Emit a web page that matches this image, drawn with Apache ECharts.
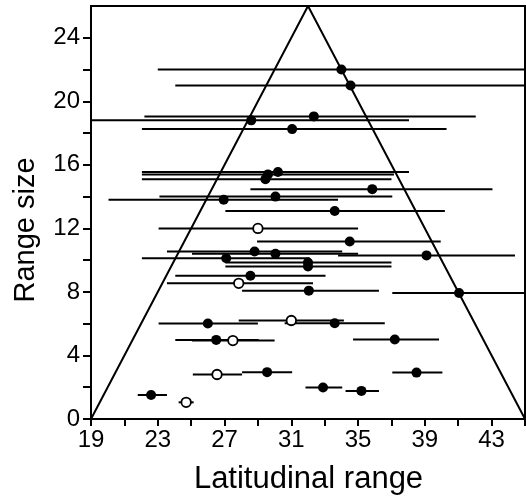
<!DOCTYPE html>
<html><head><meta charset="utf-8">
<script src="https://cdn.jsdelivr.net/npm/echarts@6/dist/echarts.min.js"></script>
<style>html,body{margin:0;padding:0;background:#fff}#c{width:526px;height:498px}</style>
</head><body><div id="c"></div>
<script>
// Range size (y) of each taxon
const rangeY  = [22.0, 21.0, 19.05, 18.8, 18.25, 15.55, 15.4, 15.1, 14.47, 14.0, 13.8, 13.1, 12.0, 11.17, 10.55, 10.4, 10.3, 10.12, 9.85, 9.6, 9.02, 8.54, 8.08, 7.93, 6.2, 6.01, 6.03, 4.98, 4.94, 5.0, 2.8, 2.95, 2.92, 1.98, 1.77, 1.51, 1.05];
// Latitudinal extent: lower and upper limits
const rangeLo = [23.0, 24.05, 22.2, 19.0, 22.05, 22.05, 22.05, 22.05, 28.55, 23.1, 20.05, 27.05, 23.05, 28.95, 23.55, 25.05, 33.8, 22.05, 27.05, 27.05, 24.05, 23.55, 28.05, 37.05, 27.85, 23.05, 30.6, 24.05, 25.05, 34.7, 25.1, 28.05, 37.05, 31.85, 34.25, 21.8, 24.25];
const rangeHi = [45.5, 45.5, 42.05, 38.05, 40.3, 38.05, 37.15, 37.0, 43.05, 37.05, 33.8, 40.2, 35.0, 39.95, 34.05, 35.0, 44.4, 32.1, 37.0, 37.0, 33.05, 32.3, 36.25, 45.5, 34.15, 29.0, 36.6, 29.05, 30.0, 39.85, 28.05, 31.05, 40.05, 34.05, 36.25, 23.55, 25.15];
// Midpoint of each range
const midX    = [34.0, 34.55, 32.35, 28.6, 31.05, 30.2, 29.6, 29.45, 35.85, 30.05, 26.95, 33.6, 29.0, 34.5, 28.8, 30.05, 39.1, 27.1, 32.0, 32.0, 28.55, 27.85, 32.05, 41.05, 31.0, 26.0, 33.6, 26.5, 27.5, 37.2, 26.55, 29.55, 38.5, 32.9, 35.2, 22.6, 24.7];
// Open symbol (1) or filled symbol (0)
const isOpen  = [0,0,0,0,0,0,0,0,0,0,0,0,1,0,0,0,0,0,0,0,0,1,0,0,1,0,0,0,1,0,1,0,0,0,0,0,1];
// Constraint triangle vertices
const triX = [19, 32, 45];
const triY = [0, 26, 0];
// Tick labels
const xTickLabels = [19, 23, 27, 31, 35, 39, 43];
const xTicks = [19, 21, 23, 25, 27, 29, 31, 33, 35, 37, 39, 41, 43, 45];
const yTickLabels = [0, 4, 8, 12, 16, 20, 24];
const yTicks = [0, 2, 4, 6, 8, 10, 12, 14, 16, 18, 20, 22, 24];

const rangeData = rangeY.map((y, i) => [rangeLo[i], rangeHi[i], y]);
const filled = [], open = [];
midX.forEach((x, i) => (isOpen[i] ? open : filled).push([x, rangeY[i]]));

const chart = echarts.init(document.getElementById('c'), null, {renderer: 'canvas'});
const font = 'Liberation Sans';
chart.setOption({
  animation: false,
  grid: {left: 91, right: 1, top: 6, bottom: 79, show: true, borderColor: '#000', borderWidth: 2, containLabel: false},
  xAxis: {
    type: 'value', min: 19, max: 45,
    axisLine: {show: true, lineStyle: {color: '#000', width: 2}},
    axisTick: {show: true, length: 7, lineStyle: {color: '#000', width: 2}, customValues: xTicks},
    axisLabel: {customValues: xTickLabels, color: '#000', fontFamily: font, fontSize: 24, margin: 9},
    splitLine: {show: false}
  },
  yAxis: {
    type: 'value', min: 0, max: 26,
    axisLine: {show: true, lineStyle: {color: '#000', width: 2}},
    axisTick: {show: true, length: 8, lineStyle: {color: '#000', width: 2}, customValues: yTicks},
    axisLabel: {customValues: yTickLabels, color: '#000', fontFamily: font, fontSize: 24, margin: 11},
    splitLine: {show: false}
  },
  graphic: [
    {type: 'text', x: 308.5, y: 464, style: {text: 'Latitudinal range', font: '31px "Liberation Sans"', fill: '#000', align: 'center', textAlign: 'center'}},
    {type: 'text', rotation: Math.PI / 2, x: 11, y: 230, style: {text: 'Range size', font: '29px "Liberation Sans"', fill: '#000', align: 'center', textAlign: 'center'}}
  ],
  series: [
    {type: 'line', data: triX.map((x, i) => [x, triY[i]]), symbol: 'none', lineStyle: {color: '#000', width: 2}, z: 2},
    {type: 'custom', data: rangeData, clip: true, z: 3,
      encode: {x: [0, 1], y: 2},
      renderItem: function (params, api) {
        const a = api.coord([api.value(0), api.value(2)]);
        const b = api.coord([api.value(1), api.value(2)]);
        return {type: 'line', shape: {x1: a[0], y1: a[1], x2: b[0], y2: b[1]}, style: {stroke: '#000', lineWidth: 2}};
      }
    },
    {type: 'scatter', data: filled, symbol: 'circle', symbolSize: 10, itemStyle: {color: '#000', opacity: 1}, z: 4},
    {type: 'scatter', data: open, symbol: 'circle', symbolSize: 9.5, itemStyle: {color: '#fff', borderColor: '#000', borderWidth: 1.8, opacity: 1}, z: 4}
  ]
});
</script></body></html>
